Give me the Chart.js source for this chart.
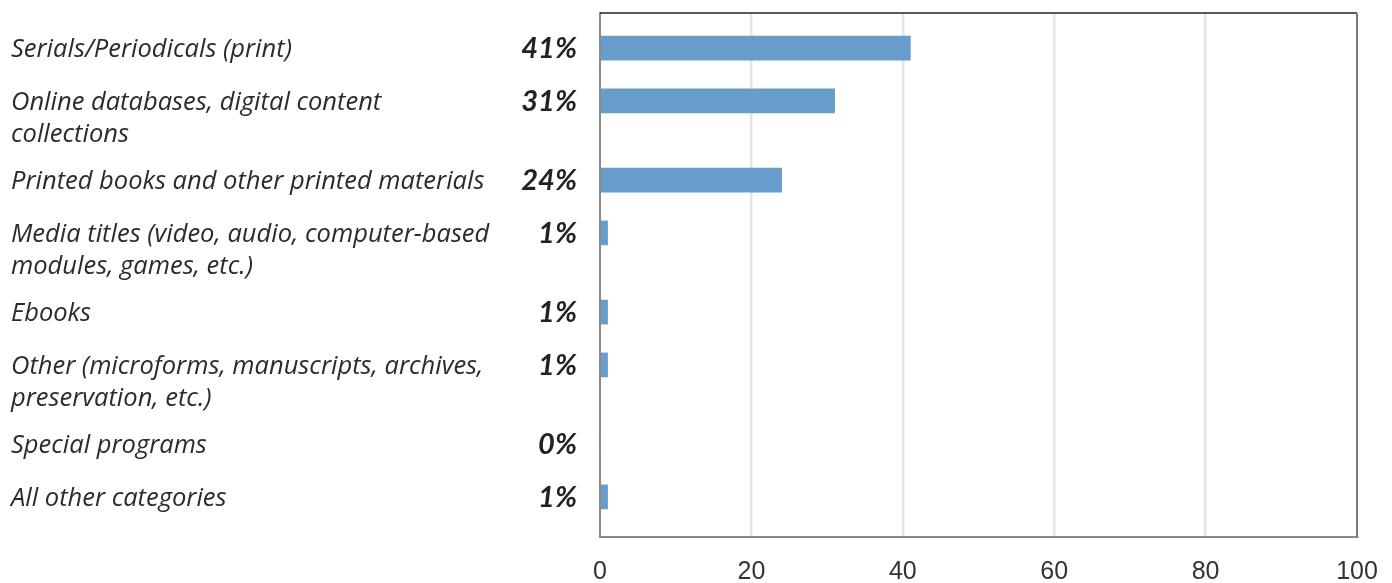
<!DOCTYPE html>
<html>
<head>
<meta charset="utf-8">
<script src="https://cdn.jsdelivr.net/npm/chart.js@4"></script>
<style>
  html, body { margin: 0; padding: 0; background: #fff; }
  #wrap { width: 1392px; height: 583px; position: relative; }
</style>
</head>
<body>
<div id="wrap"><canvas id="spend-canvas"></canvas></div>
<script>
'use strict';

// category names, one entry per printed line
const categories = [
    ['Serials/Periodicals (print)'],
    ['Online databases, digital content', 'collections'],
    ['Printed books and other printed materials'],
    ['Media titles (video, audio, computer-based', 'modules, games, etc.)'],
    ['Ebooks'],
    ['Other (microforms, manuscripts, archives,', 'preservation, etc.)'],
    ['Special programs'],
    ['All other categories']
];
const shares = [41, 31, 24, 1, 1, 1, 0, 1];
const xTicks = [0, 20, 40, 60, 80, 100];

const barColor = '#679CCB';
const labelFont = 'italic 25.5px "Open Sans"';
const pctFont = 'italic bold 29px Lato';

// a one-line label takes two rows, a two-line label takes three
function getRows() {
    let rows = [];
    let pos = 0;
    for (let i = 0; i < categories.length; i++) {
        rows[i] = pos;
        pos += categories[i].length + 1;
    }
    return rows;
}

function getPoints() {
    let rows = getRows();
    let points = [];
    for (let i = 0; i < shares.length; i++)
        points[i] = { x: shares[i], y: rows[i] };
    return points;
}

// labels on the left + percentages, lined up with each bar
const sideLabels = {
    id: 'sideLabels',
    afterDraw(chart) {
        let ctx = chart.ctx;
        let bars = chart.getDatasetMeta(0).data;
        ctx.save();
        ctx.textBaseline = 'alphabetic';
        for (let i = 0; i < bars.length; i++) {
            let y = bars[i].y;
            ctx.fillStyle = '#2b2b2b';
            ctx.font = labelFont;
            ctx.textAlign = 'left';
            categories[i].forEach((line, k) => {
                ctx.fillText(line, 11, y + 9 + k * 32);
            });
            ctx.fillStyle = '#222';
            ctx.font = pctFont;
            ctx.textAlign = 'right';
            ctx.fillText(shares[i] + '%', 577, y + 10);
        }
        ctx.restore();
    }
};

// top and right edges of the plot frame
const frame = {
    id: 'frame',
    afterDraw(chart) {
        let a = chart.chartArea;
        let ctx = chart.ctx;
        ctx.save();
        ctx.strokeStyle = '#222';
        ctx.lineWidth = 1.5;
        ctx.beginPath();
        ctx.moveTo(a.left, a.top);
        ctx.lineTo(a.right, a.top);
        ctx.stroke();
        ctx.strokeStyle = '#7a7a7a';
        ctx.lineWidth = 2;
        ctx.beginPath();
        ctx.moveTo(a.right, a.top);
        ctx.lineTo(a.right, a.bottom);
        ctx.stroke();
        ctx.restore();
    }
};

let chart = new Chart(document.getElementById('spend-canvas'), {
    type: 'bar',
    data: {
        datasets: [{
            data: getPoints(),
            backgroundColor: barColor,
            borderWidth: 0,
            barThickness: 24
        }]
    },
    options: {
        indexAxis: 'y',
        responsive: true,
        maintainAspectRatio: false,
        animation: false,
        layout: { padding: { left: 600, right: 35, top: 13, bottom: 0 } },
        plugins: {
            legend: { display: false },
            tooltip: { enabled: false }
        },
        scales: {
            x: {
                type: 'linear',
                min: xTicks[0],
                max: xTicks[xTicks.length - 1],
                afterBuildTicks: scale => {
                    scale.ticks = xTicks.map(v => ({ value: v }));
                },
                afterFit: scale => { scale.height = 46; },
                ticks: {
                    padding: 0,
                    color: '#333',
                    // tall line box pushes the numbers down below the axis
                    font: { family: 'Liberation Sans', size: 25, lineHeight: 2.8 }
                },
                grid: {
                    drawTicks: false,
                    lineWidth: 2.5,
                    color: c => (c.tick && (c.tick.value === 0 || c.tick.value === 100)) ? 'rgba(0,0,0,0)' : '#e4e4e4'
                },
                border: { display: true, color: '#8a8a8a', width: 2 }
            },
            y: {
                type: 'linear',
                reverse: true,
                offset: false,
                min: -1.33,
                max: 18.52,
                afterFit: scale => { scale.width = 0; },
                ticks: { display: false },
                grid: { display: false, drawTicks: false, offset: false },
                border: { display: true, color: '#8a8a8a', width: 2 }
            }
        }
    },
    plugins: [sideLabels, frame]
});
</script>
</body>
</html>
